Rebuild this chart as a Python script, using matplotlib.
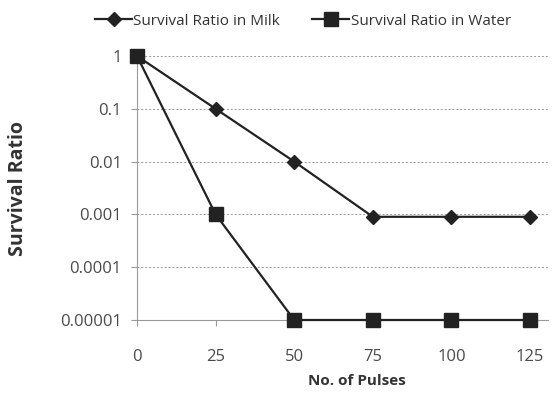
import numpy as np
import matplotlib.pyplot as plt
from matplotlib.ticker import FixedLocator, NullLocator

plt.rcParams['font.family'] = ['Open Sans', 'DejaVu Sans']

pulses = [0, 25, 50, 75, 100, 125]
milk = [1, 0.1, 0.01, 0.0009, 0.0009, 0.0009]
water = [1, 0.001, 0.00001, 0.00001, 0.00001, 0.00001]
y_ticks = [1, 0.1, 0.01, 0.001, 0.0001, 0.00001]
y_labels = ["1", "0.1", "0.01", "0.001", "0.0001", "0.00001"]

fig = plt.figure(figsize=(5.56, 4.08), dpi=100)
ax = fig.add_axes([137 / 556, 1 - 320 / 408, (548 - 137) / 556, (320 - 56) / 408])

line_col = "#222222"
ax.plot(pulses, milk, color=line_col, lw=1.6, marker="D", markersize=7.5,
        label="Survival Ratio in Milk", clip_on=False, zorder=3)
ax.plot(pulses, water, color=line_col, lw=1.6, marker="s", markersize=10,
        label="Survival Ratio in Water", clip_on=False, zorder=3)

ax.set_yscale("log")
ax.set_ylim(1e-5, 1)
ax.set_xlim(0, 130.7)
ax.yaxis.set_major_locator(FixedLocator(y_ticks))
ax.yaxis.set_minor_locator(NullLocator())
ax.set_yticklabels(y_labels)
ax.set_xticks(pulses)

ax.grid(axis="y", color="#999999", linestyle=(0, (2, 2)), lw=0.7)
for side in ["top", "right"]:
    ax.spines[side].set_visible(False)
for side in ["left", "bottom"]:
    ax.spines[side].set_color("#999999")
    ax.spines[side].set_linewidth(0.8)

ax.tick_params(axis="both", colors="#999999", length=4, width=0.8,
               labelcolor="#4a4a4a", labelsize=12)
ax.tick_params(axis="y", pad=7)
ax.tick_params(axis="x", pad=17)

ax.set_xlabel("No. of Pulses", fontsize=11, fontweight="bold", color="#333333")
ax.xaxis.set_label_coords(0.535, -0.205)
ax.set_ylabel("Survival Ratio", fontsize=14, fontweight="bold", color="#333333")
ax.yaxis.set_label_coords(-0.265, 0.5)

fig.legend(loc="upper center", bbox_to_anchor=(0.545, 1.0), ncol=2, frameon=False,
           fontsize=11, labelcolor="#333333", handlelength=2.4, handletextpad=0.1,
           columnspacing=2.1)

fig.savefig("out.png", dpi=100)
